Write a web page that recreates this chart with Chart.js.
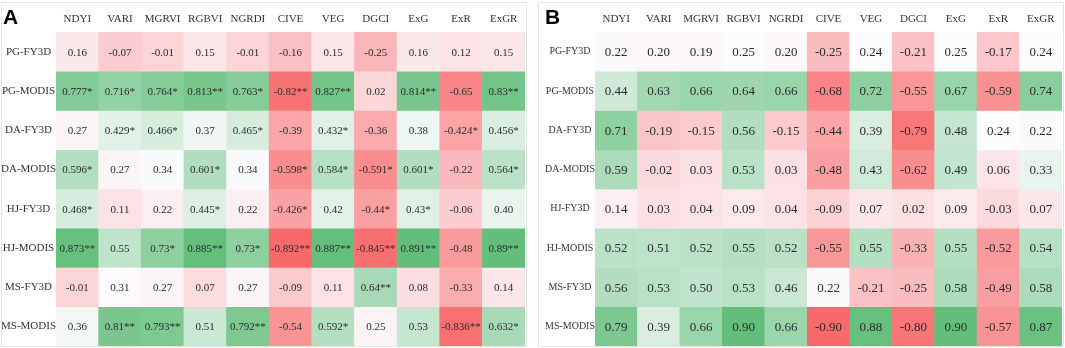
<!DOCTYPE html>
<html>
<head>
<meta charset="utf-8">
<script src="https://cdn.jsdelivr.net/npm/chart.js@4/dist/chart.umd.min.js"></script>
<style>
  body { margin: 0; background: #fff; width: 1065px; height: 348px; position: relative; overflow: hidden; }
  .panel { position: absolute; top: 2px; height: 345px; border: 1px solid #dfe7df; box-sizing: border-box; }
  .inner { position: absolute; left: 0; top: 0; right: 0; bottom: 0; }
  .tag { position: absolute; top: 6px; font: bold 21px/21px "Liberation Sans", Arial, sans-serif; color: #000; }
</style>
</head>
<body>
<div class="panel" style="left:1px;width:526px"><div class="inner"><canvas id="chartA"></canvas></div></div>
<div class="panel" style="left:538px;width:526px"><div class="inner"><canvas id="chartB"></canvas></div></div>
<div class="tag" style="left:3px">A</div>
<div class="tag" style="left:545px">B</div>
<script>
var indices = ["NDYI","VARI","MGRVI","RGBVI","NGRDI","CIVE","VEG","DGCI","ExG","ExR","ExGR"];
var sites = ["PG-FY3D","PG-MODIS","DA-FY3D","DA-MODIS","HJ-FY3D","HJ-MODIS","MS-FY3D","MS-MODIS"];

// panel A: correlation with significance marks
var cellsA = [
  ["0.16","-0.07","-0.01","0.15","-0.01","-0.16","0.15","-0.25","0.16","0.12","0.15"],
  ["0.777*","0.716*","0.764*","0.813**","0.763*","-0.82**","0.827**","0.02","0.814**","-0.65","0.83**"],
  ["0.27","0.429*","0.466*","0.37","0.465*","-0.39","0.432*","-0.36","0.38","-0.424*","0.456*"],
  ["0.596*","0.27","0.34","0.601*","0.34","-0.598*","0.584*","-0.591*","0.601*","-0.22","0.564*"],
  ["0.468*","0.11","0.22","0.445*","0.22","-0.426*","0.42","-0.44*","0.43*","-0.06","0.40"],
  ["0.873**","0.55","0.73*","0.885**","0.73*","-0.892**","0.887**","-0.845**","0.891**","-0.48","0.89**"],
  ["-0.01","0.31","0.27","0.07","0.27","-0.09","0.11","0.64**","0.08","-0.33","0.14"],
  ["0.36","0.81**","0.793**","0.51","0.792**","-0.54","0.592*","0.25","0.53","-0.836**","0.632*"]
];

// panel B
var cellsB = [
  ["0.22","0.20","0.19","0.25","0.20","-0.25","0.24","-0.21","0.25","-0.17","0.24"],
  ["0.44","0.63","0.66","0.64","0.66","-0.68","0.72","-0.55","0.67","-0.59","0.74"],
  ["0.71","-0.19","-0.15","0.56","-0.15","-0.44","0.39","-0.79","0.48","0.24","0.22"],
  ["0.59","-0.02","0.03","0.53","0.03","-0.48","0.43","-0.62","0.49","0.06","0.33"],
  ["0.14","0.03","0.04","0.09","0.04","-0.09","0.07","0.02","0.09","-0.03","0.07"],
  ["0.52","0.51","0.52","0.55","0.52","-0.55","0.55","-0.33","0.55","-0.52","0.54"],
  ["0.56","0.53","0.50","0.53","0.46","0.22","-0.21","-0.25","0.58","-0.49","0.58"],
  ["0.79","0.39","0.66","0.90","0.66","-0.90","0.88","-0.80","0.90","-0.57","0.87"]
];

// excel style 3 colour scale: min red, median white, max green
var LOW = [248,105,107], MID = [252,252,255], HIGH = [99,190,123];
function mix(a, b, t) {
  return 'rgb(' + a.map(function(v, k){ return Math.round(v + (b[k]-v)*t); }).join(',') + ')';
}
function colourScale(cells) {
  var all = [];
  cells.forEach(function(r){ r.forEach(function(s){ all.push(parseFloat(s)); }); });
  var sorted = all.slice().sort(function(a,b){return a-b;});
  var lo = sorted[0], hi = sorted[sorted.length-1];
  var p = (sorted.length-1)*0.5, f = Math.floor(p);
  var mid = sorted[f] + (sorted[Math.min(f+1, sorted.length-1)] - sorted[f])*(p-f);
  return function(v){
    if (v <= mid) return mix(LOW, MID, (v-lo)/(mid-lo));
    return mix(MID, HIGH, (v-mid)/(hi-mid));
  };
}

var cellText = {
  id: 'cellText',
  afterDatasetsDraw: function(chart, args, opts) {
    var ctx = chart.ctx;
    ctx.save();
    ctx.font = opts.size + 'px "Liberation Serif", "Times New Roman", serif';
    ctx.fillStyle = '#2b2b2b';
    ctx.textAlign = 'center';
    ctx.textBaseline = 'middle';
    chart.data.datasets.forEach(function(ds, r){
      chart.getDatasetMeta(r).data.forEach(function(bar, c){
        var y = (bar.y + bar.base) / 2;
        ctx.fillText(ds.texts[c], bar.x, y + 1);
      });
    });
    ctx.restore();
  }
};

function drawHeat(id, cells, yWidth, valSize, rowSize) {
  var colour = colourScale(cells);
  var datasets = cells.map(function(row, r){
    return {
      label: sites[r],
      data: row.map(function(){ return [r, r+1]; }),
      texts: row,
      backgroundColor: row.map(function(s){ return colour(parseFloat(s)); }),
      borderWidth: 0,
      grouped: false,
      barPercentage: 1,
      categoryPercentage: 1
    };
  });
  return new Chart(document.getElementById(id), {
    type: 'bar',
    data: { labels: indices, datasets: datasets },
    plugins: [cellText],
    options: {
      responsive: true,
      maintainAspectRatio: false,
      animation: false,
      layout: { padding: { right: 1, bottom: 0, top: 0, left: 0 } },
      plugins: {
        legend: { display: false },
        tooltip: { enabled: false },
        cellText: { size: valSize }
      },
      scales: {
        x: {
          position: 'top',
          grid: { display: false, drawTicks: false },
          border: { display: false },
          ticks: { color: '#333', font: { family: '"Liberation Serif", serif', size: 11 }, padding: 6 },
          afterFit: function(s){ s.height = 29; s.paddingLeft = 0; s.paddingRight = 0; }
        },
        y: {
          type: 'linear',
          min: 0, max: 8,
          reverse: true,
          grid: { display: false, drawTicks: false },
          border: { display: false },
          afterBuildTicks: function(s){ s.ticks = sites.map(function(_, i){ return { value: i + 0.5 }; }); },
          ticks: {
            color: '#333',
            font: { family: '"Liberation Serif", serif', size: rowSize },
            padding: 0,
            crossAlign: 'center',
            callback: function(v, i){ return sites[i]; }
          },
          afterFit: function(s){ s.width = yWidth; s.paddingTop = 0; s.paddingBottom = 0; }
        }
      }
    }
  });
}

drawHeat('chartA', cellsA, 54, 11, 11);
drawHeat('chartB', cellsB, 56, 13, 10);
</script>
</body>
</html>
